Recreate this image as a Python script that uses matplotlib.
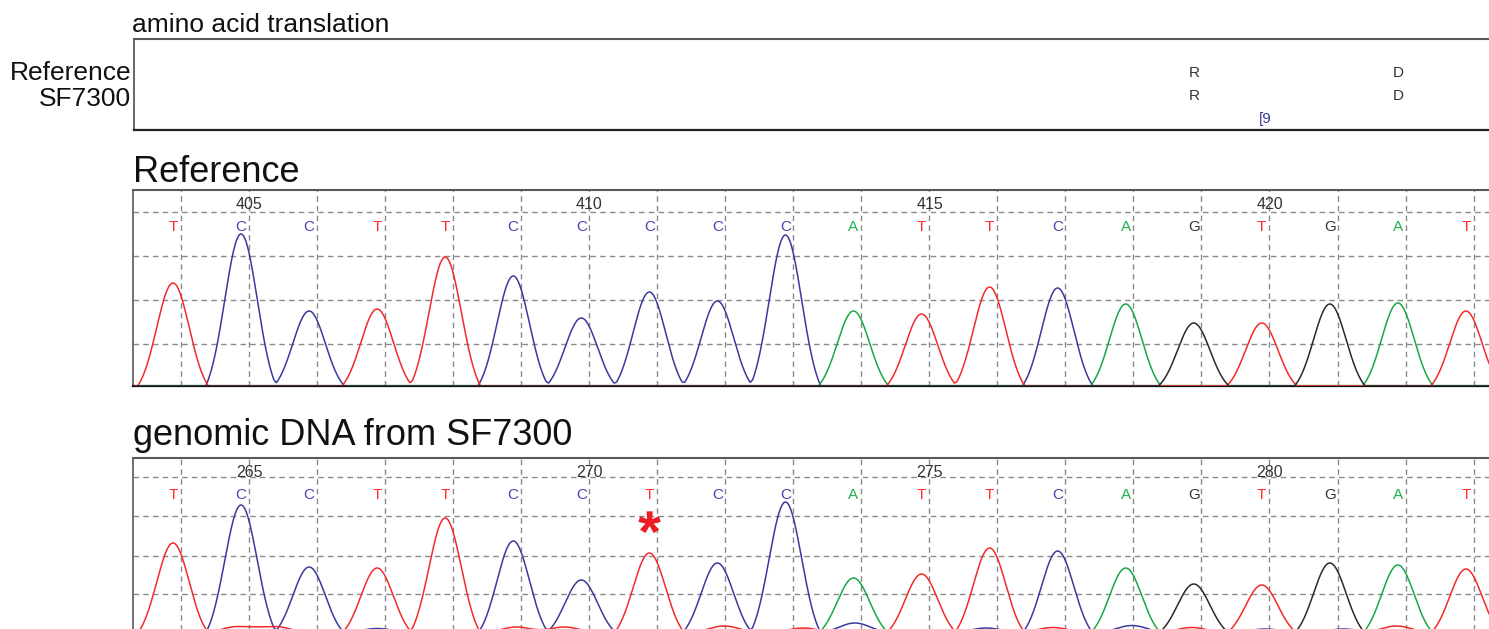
import numpy as np
import matplotlib
matplotlib.use("Agg")
import matplotlib.pyplot as plt
from matplotlib.textpath import TextPath
from matplotlib.path import Path
from matplotlib.font_manager import FontProperties

# ---------------- data ----------------
ref_bases = list("TCCTTCCCCCATTCAGTGAT")
ref_peaks = [103, 152, 75, 77, 129, 110, 68, 94, 85, 151,
             75, 72, 99, 98, 82, 63, 63, 82, 83, 75]
ref_numbers = [405, 410, 415, 420]
ref_number_idx = [1, 6, 11, 16]

gen_bases = list("TCCTTCCTCCATTCAGTGAT")
gen_peaks = [90, 128, 66, 65, 115, 92, 53, 80, 70, 131,
             55, 59, 85, 82, 65, 49, 48, 70, 68, 64]
gen_numbers = [265, 270, 275, 280]
gen_number_idx = [1, 6, 11, 16]

# small secondary (noise) peaks in the genomic trace
gen_noise_base = ["T", "T", "T", "T", "T", "T", "T", "T", "T",
                  "C", "C", "C", "C", "C", "C"]
gen_noise_pos = [0.95, 1.5, 5.05, 5.75, 8.1, 9.26, 12.93, 14.97, 17.98,
                 3.0, 10.02, 11.95, 14.09, 16.05, 17.2]
gen_noise_height = [6.5, 6.5, 6, 6, 7, 5, 5.5, 5.5, 7,
                    4.5, 10, 5, 7.5, 4, 4]

mutation_idx = 7
mutation_height = 102

aa_labels_ref = ["R", "D"]
aa_labels_sf = ["R", "D"]
aa_idx = [15, 18]
aa_note = "[9"
aa_note_idx = 16.05

base_colors = {"T": "#f42a2a", "C": "#3a3a9e", "A": "#17a845", "G": "#2a2a2a"}
letter_colors = {"T": "#ff2a2a", "C": "#4545ad", "A": "#1fb04c", "G": "#333333"}

# ---------------- layout helpers ----------------
W, H = 1489, 629
DPI = 100
fig = plt.figure(figsize=(W / DPI, H / DPI), dpi=DPI)
fig.patch.set_facecolor("white")
plt.rcParams["font.family"] = ["Liberation Sans", "DejaVu Sans"]

X0_PX, STEP_PX = 173.0, 68.05   # pixel of base 0, pixels per base


def rect(l, t, r, b):
    return [l / W, 1 - b / H, (r - l) / W, (b - t) / H]


def xlim_for(left_px):
    return ((left_px - X0_PX) / STEP_PX, (W - X0_PX) / STEP_PX)


def peak_shape(xs, pos, h, sigma=0.24, cutoff=0.52):
    e0 = np.exp(-cutoff ** 2 / (2 * sigma ** 2))
    g = (np.exp(-(xs - pos) ** 2 / (2 * sigma ** 2)) - e0) / (1 - e0)
    return h * np.clip(g, 0, None)


def build_traces(xs, bases, peaks, extra_b=(), extra_p=(), extra_h=()):
    tr = {b: np.zeros_like(xs) for b in "TCAG"}
    for i, (b, h) in enumerate(zip(bases, peaks)):
        tr[b] += peak_shape(xs, i, h)
    for b, p, h in zip(extra_b, extra_p, extra_h):
        tr[b] += peak_shape(xs, p, h)
    return tr


def style_panel(ax, left_px, ytop, hgrid):
    ax.set_xlim(*xlim_for(left_px))
    ax.set_ylim(0, ytop)
    ax.set_xticks([])
    ax.set_yticks([])
    ax.spines["right"].set_visible(False)
    ax.spines["top"].set_color("#5a5a5a")
    ax.spines["top"].set_linewidth(1.5)
    ax.spines["left"].set_color("#5a5a5a")
    ax.spines["left"].set_linewidth(1.2)
    ax.spines["bottom"].set_color("#111111")
    ax.spines["bottom"].set_linewidth(1.6)
    for k in range(20):
        ax.axvline(k + 0.113, color="#8a8a8a", lw=1.0, dashes=(4, 3), zorder=1)
    for hy in hgrid:
        ax.axhline(hy, color="#8a8a8a", lw=1.0, dashes=(4, 3), zorder=1)


def draw_panel(ax, bases, peaks, numbers, number_idx, traces, xs):
    for b in "CATG":
        ax.plot(xs, traces[b], color=base_colors[b], lw=1.1, zorder=3,
                solid_joinstyle="round")
    for i, b in enumerate(bases):
        ax.annotate(b, xy=(i, 1), xycoords=("data", "axes fraction"),
                    xytext=(0, -41), textcoords="offset pixels",
                    ha="center", va="baseline", fontsize=11,
                    color=letter_colors[b], zorder=4)
    for n, i in zip(numbers, number_idx):
        ax.annotate(str(n), xy=(i + 0.12, 1), xycoords=("data", "axes fraction"),
                    xytext=(0, -19), textcoords="offset pixels",
                    ha="center", va="baseline", fontsize=11.5,
                    color="#333333", zorder=4)


xs = np.linspace(-1.0, 20.0, 4201)

# ---------------- amino acid translation box ----------------
ax_aa = fig.add_axes(rect(134, 39, W, 130))
ax_aa.set_xlim(*xlim_for(134))
ax_aa.set_ylim(91, 0)
ax_aa.set_xticks([])
ax_aa.set_yticks([])
ax_aa.spines["right"].set_visible(False)
ax_aa.spines["top"].set_color("#5a5a5a")
ax_aa.spines["top"].set_linewidth(1.5)
ax_aa.spines["left"].set_color("#5a5a5a")
ax_aa.spines["left"].set_linewidth(1.3)
ax_aa.spines["bottom"].set_color("#222222")
ax_aa.spines["bottom"].set_linewidth(1.6)
for lab, i in zip(aa_labels_ref, aa_idx):
    ax_aa.text(i, 76.7 - 39, lab, ha="center", va="baseline",
               fontsize=11, color="#333333")
for lab, i in zip(aa_labels_sf, aa_idx):
    ax_aa.text(i, 100.5 - 39, lab, ha="center", va="baseline",
               fontsize=11, color="#333333")
ax_aa.text(aa_note_idx, 123 - 39, aa_note, ha="center", va="baseline",
           fontsize=11, color="#3a3aa0")

fig.text(132 / W, 1 - 32.5 / H, "amino acid translation", ha="left",
         va="baseline", fontsize=19, color="#111111")
fig.text(131 / W, 1 - 80 / H, "Reference", ha="right", va="baseline",
         fontsize=19, color="#111111")
fig.text(131 / W, 1 - 106 / H, "SF7300", ha="right", va="baseline",
         fontsize=19, color="#111111")

# ---------------- reference chromatogram ----------------
fig.text(133 / W, 1 - 182 / H, "Reference", ha="left", va="baseline",
         fontsize=26, color="#111111")
ax_ref = fig.add_axes(rect(133, 190, W, 386))
style_panel(ax_ref, 133, 196, [42, 86.5, 130, 174])
tr_ref = build_traces(xs, ref_bases, ref_peaks)
draw_panel(ax_ref, ref_bases, ref_peaks, ref_numbers, ref_number_idx, tr_ref, xs)

# ---------------- genomic chromatogram ----------------
fig.text(133 / W, 1 - 445 / H, "genomic DNA from SF7300", ha="left",
         va="baseline", fontsize=26, color="#111111")
ax_gen = fig.add_axes(rect(133, 458, W, 633))
style_panel(ax_gen, 133, 175, [39, 77, 117, 156])
tr_gen = build_traces(xs, gen_bases, gen_peaks,
                      gen_noise_base, gen_noise_pos, gen_noise_height)
draw_panel(ax_gen, gen_bases, gen_peaks, gen_numbers, gen_number_idx, tr_gen, xs)

# mutation asterisk
tp = TextPath((0, 0), "*", size=1,
              prop=FontProperties(family="Liberation Sans", weight="bold"))
v = tp.vertices
c = (v.min(axis=0) + v.max(axis=0)) / 2
star = Path(v - c, tp.codes)
ax_gen.plot([mutation_idx], [mutation_height], marker=star, markersize=29,
            markerfacecolor="#ee1c25", markeredgewidth=0, linestyle="none",
            zorder=5)

fig.savefig("out.png", dpi=DPI, facecolor="white")
